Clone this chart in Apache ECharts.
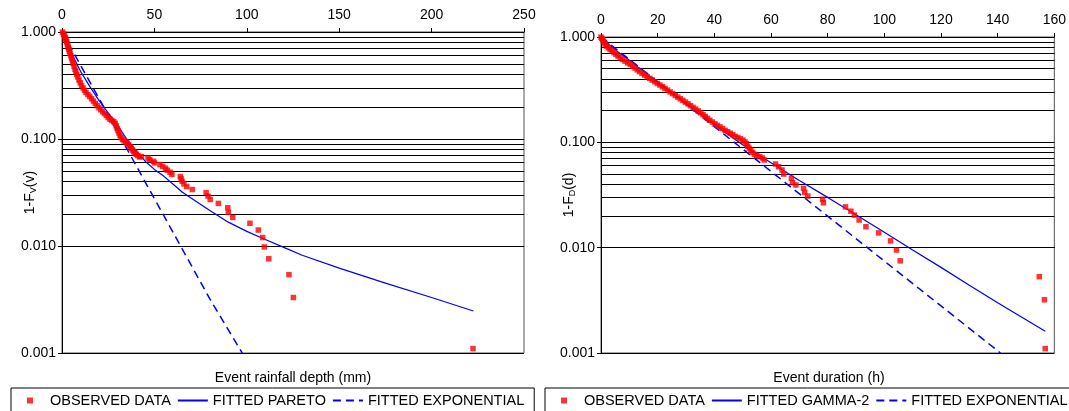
<!DOCTYPE html>
<html><head><meta charset="utf-8">
<script src="https://cdn.jsdelivr.net/npm/echarts@6/dist/echarts.min.js"></script>
<style>html,body{margin:0;padding:0;background:#fff}#c{width:1069px;height:411px}</style>
</head><body><div id="c"></div>
<script>
// ---------- DATA ----------
// Left chart: event rainfall depth (mm) vs exceedance probability 1-Fv(v)
const depthObserved = [
 [0.3,0.998],[0.8,0.96],[1.2,0.93],[1.6,0.9],[1.9,0.87],[2.2,0.84],[2.5,0.81],[2.8,0.78],[3.1,0.75],[3.4,0.72],
 [3.7,0.69],[4.0,0.66],[4.4,0.63],[4.8,0.60],[5.2,0.57],[5.6,0.54],[6.0,0.51],[6.5,0.48],[7.0,0.45],[7.5,0.43],
 [8.0,0.40],[8.6,0.38],[9.2,0.355],[9.9,0.335],[10.6,0.315],[11.4,0.30],[12.2,0.285],[13.0,0.272],[14.0,0.26],[15.0,0.25],
 [16.0,0.238],[17.0,0.226],[18.0,0.215],[19.0,0.205],[20.0,0.196],[21.0,0.188],[22.0,0.180],[23.0,0.173],[24.0,0.166],[25.0,0.159],
 [26.0,0.153],[27.0,0.149],[28.0,0.145],[28.8,0.14],[29.3,0.133],[29.8,0.126],[30.3,0.12],[30.8,0.114],[31.4,0.108],[32.0,0.103],
 [32.8,0.099],[33.6,0.096],[34.5,0.094],[35.3,0.091],[36.0,0.088],[36.8,0.085],[37.5,0.082],[38.2,0.079],[38.8,0.076],[39.5,0.074],
 [40.2,0.072],[41.0,0.070],[42.0,0.068],
 [43.0,0.0685],[46.5,0.0663],[47.5,0.0641],[49.5,0.062],[50.0,0.0598],[53.0,0.0576],[54.5,0.0554],[56.0,0.0533],[57.0,0.0511],
 [58.5,0.0489],[59.5,0.0467],[64.0,0.0446],[64.5,0.0424],[65.0,0.0402],[66.0,0.038],[67.5,0.0359],[70.5,0.0337],[78.0,0.0315],
 [79.0,0.0293],[80.2,0.0272],[84.6,0.025],[89.7,0.0228],[90.0,0.0207],[92.4,0.0185],[101.7,0.0163],[106.2,0.0141],[108.6,0.012],
 [109.5,0.0098],[111.9,0.0076],[122.8,0.0054],[125.2,0.0033],[222.4,0.0011]
];
const depthPareto = [
 [0,1.0],[5,0.64],[10,0.43],[15,0.31],[20,0.23],[25,0.175],[30,0.135],[35,0.1],[40,0.078],[45,0.062],[50,0.052],
 [55,0.045],[60,0.038],[65,0.032],[70,0.028],[80,0.0215],[90,0.0167],[100,0.0137],[110,0.0115],[120,0.0097],
 [130,0.0082],[150,0.0062],[175,0.0045],[200,0.0033],[222.6,0.00247]
];
const depthExponential = [[0,1.0],[20,0.24],[40,0.057],[60,0.0135],[80,0.0032],[97.5,0.001]];

// Right chart: event duration (h) vs exceedance probability 1-FD(d)
const durationObserved = [
 [0,0.998],[0.3,0.97],[0.6,0.94],[0.9,0.91],[1.2,0.88],[1.5,0.85],[2.0,0.82],[2.6,0.79],[3.2,0.76],[3.9,0.735],
 [4.6,0.71],[5.3,0.685],[6.0,0.66],[6.8,0.635],[7.6,0.612],[8.5,0.59],[9.4,0.568],[10.3,0.55],[11.2,0.53],[12.0,0.508],
 [12.8,0.488],[13.6,0.47],[14.5,0.452],[15.4,0.435],[16.3,0.42],[17.2,0.405],[18.1,0.39],[19.0,0.376],[19.9,0.362],[20.8,0.35],
 [21.7,0.337],[22.6,0.325],[23.5,0.313],[24.4,0.301],[25.3,0.29],[26.2,0.279],[27.1,0.269],[28.0,0.259],[28.9,0.25],[29.8,0.241],
 [30.7,0.232],[31.6,0.223],[32.5,0.215],[33.4,0.207],[34.3,0.199],[35.2,0.191],[36.0,0.183],[36.8,0.176],[37.6,0.169],[38.4,0.162],
 [39.3,0.156],[40.2,0.15],[41.1,0.145],[42.0,0.14],[42.9,0.135],[43.8,0.13],[44.7,0.126],[45.6,0.122],[46.5,0.118],[47.4,0.114],
 [48.3,0.111],[49.2,0.108],[50.1,0.105],[50.8,0.101],[51.3,0.097],[51.8,0.092],[52.3,0.088],[52.9,0.084],[53.5,0.08],[54.2,0.077],
 [55.0,0.075],[56.0,0.073],[57.0,0.071],[57.6,0.068],
 [61.6,0.0623],[62.7,0.0587],[63.9,0.0546],[64.5,0.05],[67.2,0.0455],[67.6,0.0414],[68.8,0.0394],[71.5,0.0366],[71.9,0.0335],
 [73.0,0.0309],[78.2,0.0288],[78.5,0.0267],[86.3,0.0244],[88.2,0.0222],[89.4,0.0204],[91.1,0.0183],[93.5,0.0158],[98.0,0.0138],
 [102.2,0.0116],[104.3,0.0095],[105.6,0.0075],[154.7,0.0053],[156.5,0.0032],[156.8,0.0011]
];
const durationGamma = [
 [0,1.0],[3,0.84],[6,0.72],[10,0.6],[15,0.47],[20,0.37],[30,0.232],[40,0.148],[50,0.095],[60,0.064],[70,0.0435],
 [80,0.03],[90,0.0205],[100,0.014],[110,0.0095],[120,0.0065],[130,0.0044],[140,0.003],[156.8,0.00161]
];
const durationExponential = [[0,1.0],[20,0.376],[40,0.141],[60,0.053],[80,0.0199],[100,0.00746],[120,0.0028],[141,0.001]];

// Axis ticks and gridlines
const depthTicks = [0,50,100,150,200,250];
const durationTicks = [0,20,40,60,80,100,120,140,160];
const probTicks = [0.001,0.01,0.1,1];
const minorGrid = [0.9,0.8,0.7,0.6,0.5,0.4,0.3,0.2,0.09,0.08,0.07,0.06,0.05,0.04,0.03,0.02,
                   0.009,0.008,0.007,0.006,0.005,0.004,0.003,0.002];
const legendDepth = ['OBSERVED DATA','FITTED PARETO','FITTED EXPONENTIAL'];
const legendDuration = ['OBSERVED DATA','FITTED GAMMA-2','FITTED EXPONENTIAL'];

// ---------- CHART ----------
const FONT = "'Liberation Sans', Arial, sans-serif";
const chart = echarts.init(document.getElementById('c'), null, {renderer:'canvas'});

function xAxisCfg(gi, ticks){
  return {
    type:'value', gridIndex:gi, position:'top',
    min:ticks[0], max:ticks[ticks.length-1], interval:ticks[1]-ticks[0],
    axisLine:{show:true, onZero:false, lineStyle:{color:'#000', width:1}},
    axisTick:{show:true, inside:false, length:4, lineStyle:{color:'#000'}},
    axisLabel:{show:true, margin:10, color:'#000', fontSize:14, fontFamily:FONT},
    splitLine:{show:false}
  };
}
function yAxisCfg(gi, sub, arg){
  return {
    type:'log', logBase:10, gridIndex:gi,
    min:probTicks[0], max:probTicks[probTicks.length-1],
    axisLine:{show:true, onZero:false, lineStyle:{color:'#000', width:1}},
    axisTick:{show:true, inside:false, length:4, lineStyle:{color:'#000'}},
    axisLabel:{show:true, margin:6, color:'#000', fontSize:14, fontFamily:FONT,
      formatter:v=>Number(v).toFixed(3)},
    splitLine:{show:true, lineStyle:{color:'#000', width:1}},
    minorTick:{show:false}, minorSplitLine:{show:false},
    name:'1-F{s|'+sub+'}('+arg+')', nameLocation:'middle', nameGap:24, nameRotate:90,
    nameMoveOverlap:false,
    nameTextStyle:{color:'#000', fontSize:14, fontFamily:FONT,
      rich:{s:{fontSize:9, fontFamily:FONT, color:'#000', verticalAlign:'bottom', lineHeight:16}}}
  };
}
function gridMark(){
  return {
    silent:true, symbol:['none','none'], z:1, animation:false,
    label:{show:false},
    lineStyle:{color:'#000', width:1, type:'solid', opacity:1},
    emphasis:{disabled:true},
    data: minorGrid.map(v=>({yAxis:v}))
  };
}
function lineSeries(name, xi, data, dashed, withGrid){
  const s = {
    type:'line', name:name, xAxisIndex:xi, yAxisIndex:xi, data:data,
    symbol:'none', showSymbol:false, smooth:false, clip:true, z:3, animation:false,
    lineStyle:{color:'#0000ff', width:dashed?1.5:1.25, type:dashed?[8,5]:'solid'},
    itemStyle:{color:'#0000ff'}, emphasis:{disabled:true}
  };
  if (withGrid) s.markLine = gridMark();
  return s;
}
function scatterSeries(xi, data){
  return {
    type:'scatter', name:'OBSERVED DATA', xAxisIndex:xi, yAxisIndex:xi, data:data,
    symbol:'rect', symbolSize:5.5, z:4, animation:false,
    itemStyle:{color:'#ff0000'}, emphasis:{disabled:true}
  };
}
// legend square marker: a path whose bounding box is 30x6 with a 6x6 square in its middle
const LEGEND_SQUARE = 'path://M0,0M30,6M12,0L18,0L18,6L12,6Z';
function legendCfg(left, names, width){
  return {
    data: names.map(n => n==='OBSERVED DATA'
      ? {name:n, icon:LEGEND_SQUARE}
      : {name:n, itemStyle:{opacity:0}}),
    left:left, top:388, width:width, orient:'horizontal',
    padding:[5,10,8,4], itemGap:6, itemWidth:30, itemHeight:6,
    symbolKeepAspect:true,
    borderColor:'#000', borderWidth:1, borderRadius:0, backgroundColor:'#fff',
    selectedMode:false,
    textStyle:{color:'#000', fontSize:14.5, fontFamily:FONT}
  };
}

const option = {
  backgroundColor:'#fff',
  animation:false,
  grid:[
    {left:62, top:32, width:462, height:321, show:true, borderColor:'#555', borderWidth:1, backgroundColor:'transparent'},
    {left:601, top:37, width:457, height:316, show:true, borderColor:'#555', borderWidth:1, backgroundColor:'transparent'}
  ],
  xAxis:[xAxisCfg(0, depthTicks), xAxisCfg(1, durationTicks)],
  yAxis:[yAxisCfg(0,'V','v'), yAxisCfg(1,'D','d')],
  legend:[legendCfg(11, legendDepth, 600), legendCfg(545, legendDuration, 600)],
  graphic:[
    {type:'text', x:293, y:378, silent:true,
     style:{text:'Event rainfall depth (mm)', fill:'#000', font:'14px '+FONT, align:'center', verticalAlign:'middle'}},
    {type:'text', x:829, y:378, silent:true,
     style:{text:'Event duration (h)', fill:'#000', font:'14px '+FONT, align:'center', verticalAlign:'middle'}}
  ],
  series:[
    lineSeries('FITTED EXPONENTIAL', 0, depthExponential, true, true),
    lineSeries('FITTED PARETO', 0, depthPareto, false, false),
    scatterSeries(0, depthObserved),
    lineSeries('FITTED EXPONENTIAL', 1, durationExponential, true, true),
    lineSeries('FITTED GAMMA-2', 1, durationGamma, false, false),
    scatterSeries(1, durationObserved)
  ]
};
chart.setOption(option);
</script>
</body></html>
